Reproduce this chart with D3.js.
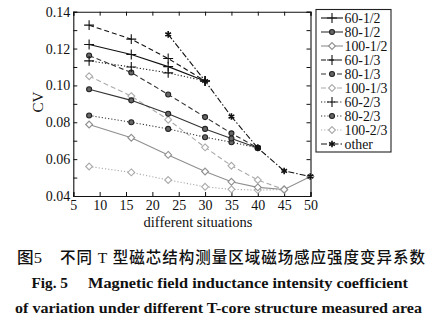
<!DOCTYPE html>
<html><head><meta charset="utf-8">
<script src="https://cdn.jsdelivr.net/npm/d3@7"></script>
<style>
html,body{margin:0;padding:0;background:#fff;}
svg{display:block;}
svg text{font-family:"Liberation Serif","Times New Roman","DejaVu Serif",serif;}
svg text.cjk{font-family:"Liberation Serif","Noto Sans CJK SC",serif;font-weight:500;}
</style></head>
<body>
<svg id="chart" width="438" height="322"></svg>
<script>
// ---------- data ----------
const situations = [8, 16, 23, 30, 35, 40, 45, 50];
const otherSituations = [23, 30, 35, 40, 45, 50];
const seriesNames = ["60-1/2","80-1/2","100-1/2","60-1/3","80-1/3","100-1/3","60-2/3","80-2/3","100-2/3","other"];
const cv60_12  = [0.1222, 0.1168, 0.1102, 0.1024];
const cv80_12  = [0.0979, 0.0919, 0.0846, 0.0764, 0.0712, 0.0661];
const cv100_12 = [0.0788, 0.0716, 0.0623, 0.0533, 0.0477, 0.0447, 0.0435, 0.0506];
const cv60_13  = [0.1327, 0.1251, 0.1146, 0.1024];
const cv80_13  = [0.1162, 0.1070, 0.0951, 0.0828, 0.0740, 0.0661];
const cv100_13 = [0.1050, 0.0942, 0.0814, 0.0664, 0.0564, 0.0487, 0.0435];
const cv60_23  = [0.1133, 0.1100, 0.1068, 0.1024];
const cv80_23  = [0.0837, 0.0800, 0.0764, 0.0719, 0.0692, 0.0661];
const cv100_23 = [0.0560, 0.0528, 0.0487, 0.0450, 0.0436, 0.0432, 0.0435];
const cvOther  = [0.1277, 0.1024, 0.0831, 0.0661, 0.0536, 0.0506];
const xTicks = [5, 10, 15, 20, 25, 30, 35, 40, 45, 50];
const yTickLabels = [0.04, 0.06, 0.08, 0.10, 0.12, 0.14];
const yMinorTicks = [0.04, 0.05, 0.06, 0.07, 0.08, 0.09, 0.10, 0.11, 0.12, 0.13, 0.14];
const yLabel = "CV";
const xLabel = "different situations";
const captionCn1 = "图5";
const captionCn2 = "不同 T 型磁芯结构测量区域磁场感应强度变异系数";
const captionEn1a = "Fig. 5";
const captionEn1b = "Magnetic field inductance intensity coefficient";
const captionEn2 = "of variation under different T-core structure measured area";

// ---------- styles ----------
const dataSets = [cv60_12, cv80_12, cv100_12, cv60_13, cv80_13, cv100_13, cv60_23, cv80_23, cv100_23, cvOther];
const xSets = [situations, situations, situations, situations, situations, situations, situations, situations, situations, otherSituations];
const styles = [
  {color:"#111", dash:null,        marker:"plus"},
  {color:"#333", dash:null,        marker:"circle"},
  {color:"#8f8f8f", dash:null,     marker:"diamond"},
  {color:"#111", dash:"5,3",       marker:"plus"},
  {color:"#333", dash:"5,3",       marker:"circle"},
  {color:"#aaa", dash:"5,3",       marker:"diamond"},
  {color:"#222", dash:"1.2,2",     marker:"plus"},
  {color:"#333", dash:"1.2,2",     marker:"circle"},
  {color:"#aaa", dash:"1.2,2",     marker:"diamond"},
  {color:"#111", dash:"6,2,1.5,2", marker:"star"}
];

const svg = d3.select("#chart");
svg.append("rect").attr("width",438).attr("height",322).attr("fill","#fff");

const L = 73.3, R = 310.5, T = 11.7, B = 196;
const x = d3.scaleLinear().domain([5, 50]).range([L, R]);
const y = d3.scaleLinear().domain([0.04, 0.14]).range([B, T]);

// axes (box with inward ticks)
const gx = svg.append("g").attr("transform",`translate(0,${B})`)
  .call(d3.axisBottom(x).tickValues(xTicks).tickSize(-4).tickPadding(4).tickFormat(d3.format("d")));
const gxt = svg.append("g").attr("transform",`translate(0,${T})`)
  .call(d3.axisTop(x).tickValues(xTicks).tickSize(-4).tickFormat(""));
const gy = svg.append("g").attr("transform",`translate(${L},0)`)
  .call(d3.axisLeft(y).tickValues(yMinorTicks).tickSize(-4).tickPadding(3)
    .tickFormat(d => yTickLabels.some(v => Math.abs(v-d)<1e-9) ? d3.format(".2f")(d) : ""));
const gyr = svg.append("g").attr("transform",`translate(${R},0)`)
  .call(d3.axisRight(y).tickValues(yMinorTicks).tickSize(-4).tickFormat(""));
[gx,gxt,gy,gyr].forEach(g => {
  g.attr("font-family",null);
  g.select(".domain").attr("stroke","#111").attr("stroke-width",1.1);
  g.selectAll(".tick line").attr("stroke","#111");
  g.selectAll("text").attr("font-size",14).attr("fill","#111");
});

// axis titles
svg.append("text").attr("x",198).attr("y",226.5).attr("text-anchor","middle")
  .attr("font-size",14.5).attr("fill","#111").text(xLabel);
svg.append("text").attr("transform","translate(43,102) rotate(-90)").attr("text-anchor","middle")
  .attr("font-size",15).attr("fill","#111").text(yLabel);

// markers
function marker(sel, type, color) {
  if (type === "plus") {
    sel.append("path").attr("d", d3.symbol().type(d3.symbolPlus).size(34)())
      .attr("fill","none").attr("stroke","#111").attr("stroke-width",1.1);
  } else if (type === "circle") {
    sel.append("circle").attr("r",2.5).attr("fill","#666").attr("stroke","#222").attr("stroke-width",1.1);
  } else if (type === "diamond") {
    sel.append("path").attr("d", d3.symbol().type(d3.symbolDiamond2).size(30)())
      .attr("fill","#fff").attr("stroke",color).attr("stroke-width",1.1);
  } else if (type === "star") {
    sel.append("path").attr("d", d3.symbol().type(d3.symbolAsterisk).size(30)())
      .attr("fill","none").attr("stroke","#111").attr("stroke-width",1.6);
  }
}

const line = d3.line().x(d => x(d[0])).y(d => y(d[1]));
const drawOrder = [8,5,2,7,4,1,6,3,0,9];
drawOrder.forEach(i => {
  const pts = dataSets[i].map((v,k) => [xSets[i][k], v]);
  const st = styles[i];
  const g = svg.append("g");
  g.append("path").attr("d", line(pts)).attr("fill","none").attr("stroke",st.color)
    .attr("stroke-width",1.1).attr("stroke-dasharray",st.dash);
  pts.forEach(p => {
    const m = g.append("g").attr("transform",`translate(${x(p[0])},${y(p[1])})`);
    marker(m, st.marker, st.color);
  });
});

// legend
const lg = svg.append("g");
lg.append("rect").attr("x",316).attr("y",9.5).attr("width",75).attr("height",142.5)
  .attr("fill","#fff").attr("stroke","#222").attr("stroke-width",1.1);
seriesNames.forEach((name,i) => {
  const yy = 18 + i*14;
  const st = styles[i];
  lg.append("line").attr("x1",321).attr("x2",343).attr("y1",yy).attr("y2",yy)
    .attr("stroke",st.color).attr("stroke-width",1.1).attr("stroke-dasharray",st.dash);
  const m = lg.append("g").attr("transform",`translate(332,${yy})`);
  marker(m, st.marker, st.color);
  lg.append("text").attr("x",344.5).attr("y",yy).attr("dy","0.35em")
    .attr("font-size",13.8).attr("fill","#111").text(name);
});

// caption
svg.append("text").attr("class","cjk").attr("x",17).attr("y",263).attr("font-size",15.5)
  .attr("fill","#111").attr("textLength",25).attr("lengthAdjust","spacingAndGlyphs").text(captionCn1);
svg.append("text").attr("class","cjk").attr("x",60).attr("y",263).attr("font-size",15.5)
  .attr("fill","#111").attr("textLength",365).attr("lengthAdjust","spacing").text(captionCn2);
svg.append("text").attr("x",31.5).attr("y",288).attr("font-size",15)
  .attr("font-weight","bold").attr("fill","#111").attr("textLength",36.5).attr("lengthAdjust","spacingAndGlyphs").text(captionEn1a);
svg.append("text").attr("x",88).attr("y",288).attr("font-size",15)
  .attr("font-weight","bold").attr("fill","#111").attr("textLength",320).attr("lengthAdjust","spacingAndGlyphs").text(captionEn1b);
svg.append("text").attr("x",15).attr("y",312.5).attr("font-size",15)
  .attr("font-weight","bold").attr("fill","#111").attr("textLength",407).attr("lengthAdjust","spacingAndGlyphs").text(captionEn2);
</script>
</body></html>
